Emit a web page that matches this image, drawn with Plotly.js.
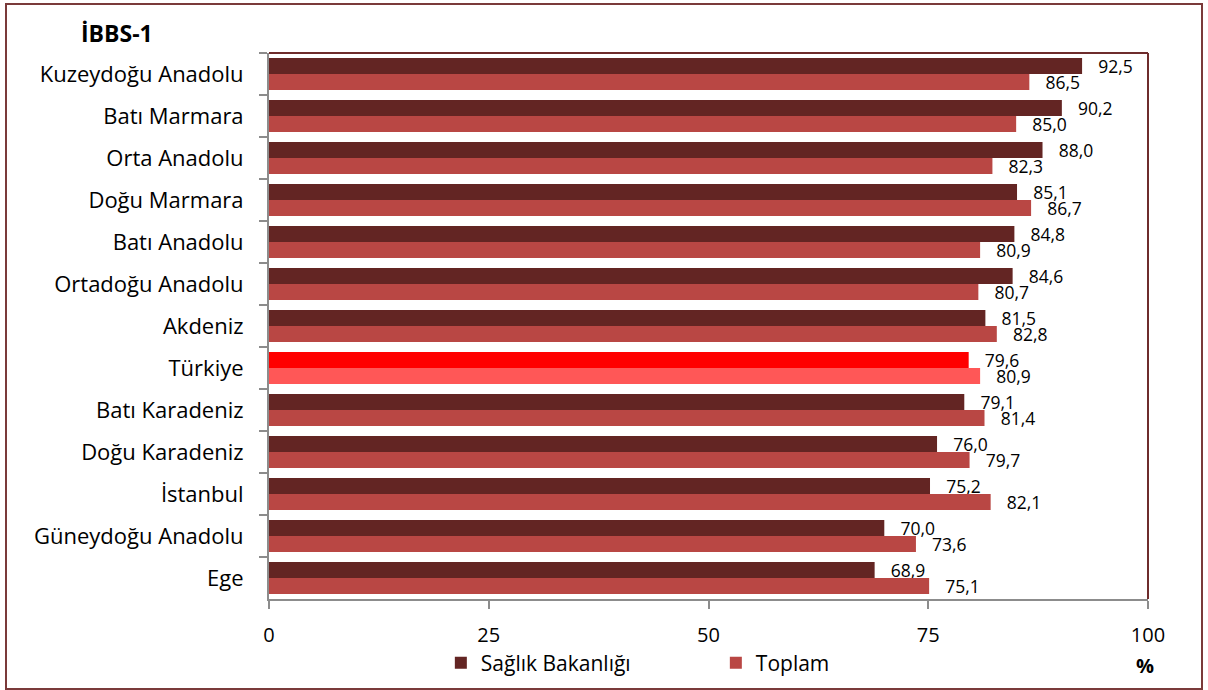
<!DOCTYPE html>
<html>
<head>
<meta charset="utf-8">
<script src="https://cdn.plot.ly/plotly-3.0.1.min.js"></script>
<style>
  html, body { margin: 0; padding: 0; background: #fff; }
  #wrap { position: relative; width: 1208px; height: 690px; }
  #chart { width: 1208px; height: 690px; }
  #frame { position: absolute; left: 5px; top: 3px; width: 1194px; height: 683px;
           border: 2px solid #7a3a3a; pointer-events: none; }
</style>
</head>
<body>
<div id="wrap"><div id="chart"></div><div id="frame"></div></div>
<script>
const categories = ["Kuzeydoğu Anadolu", "Batı Marmara", "Orta Anadolu", "Doğu Marmara", "Batı Anadolu",
  "Ortadoğu Anadolu", "Akdeniz", "Türkiye", "Batı Karadeniz", "Doğu Karadeniz", "İstanbul",
  "Güneydoğu Anadolu", "Ege"];
const saglikValues = [92.5, 90.2, 88.0, 85.1, 84.8, 84.6, 81.5, 79.6, 79.1, 76.0, 75.2, 70.0, 68.9];
const toplamValues = [86.5, 85.0, 82.3, 86.7, 80.9, 80.7, 82.8, 80.9, 81.4, 79.7, 82.1, 73.6, 75.1];
const xTicks = [0, 25, 50, 75, 100];

const FONT = "'Open Sans', sans-serif";
const darkCol = "#632523", lightCol = "#B94744";
const hiDark = "#FF0000", hiLight = "#FF5757";
const saglikColors = categories.map(c => c === "Türkiye" ? hiDark : darkCol);
const toplamColors = categories.map(c => c === "Türkiye" ? hiLight : lightCol);

const common = {
  type: "bar", orientation: "h", y: categories,
  textposition: "outside", cliponaxis: false, constraintext: "none",
  texttemplate: "\u2002\u2005%{x:.1f}",
  textfont: { family: FONT, size: 17.5, color: "#000" },
  hoverinfo: "skip"
};

const data = [
  Object.assign({}, common, { name: "Sağlık Bakanlığı", x: saglikValues,
    marker: { color: saglikColors, line: { width: 0 } } }),
  Object.assign({}, common, { name: "Toplam", x: toplamValues,
    marker: { color: toplamColors, line: { width: 0 } } })
];

const layout = {
  width: 1208, height: 690,
  margin: { l: 269, r: 60, t: 53, b: 91, autoexpand: false },
  paper_bgcolor: "#fff", plot_bgcolor: "#fff",
  separators: ",.",
  font: { family: FONT, size: 20, color: "#000" },
  barmode: "group", bargap: 0.24, bargroupgap: 0,
  showlegend: true,
  legend: { orientation: "h", x: 0.1955, xanchor: "left",
    yref: "container", y: 0.039, yanchor: "middle",
    font: { family: FONT, size: 21, color: "#000" }, traceorder: "normal",
    entrywidth: 230, entrywidthmode: "pixels", itemwidth: 30 },
  xaxis: {
    range: [0, 100], tickvals: xTicks, ticktext: xTicks.map(String), automargin: false,
    showgrid: false, zeroline: false, showline: true, linecolor: "#8c8c8c", linewidth: 2,
    ticks: "outside", ticklen: 8, tickwidth: 2, tickcolor: "#8c8c8c",
    ticklabelstandoff: 9,
    tickfont: { family: FONT, size: 20, color: "#000" }, fixedrange: true
  },
  yaxis: {
    type: "category", autorange: "reversed", automargin: false,
    showgrid: false, zeroline: false, showline: true, linecolor: "#8c8c8c", linewidth: 2,
    ticks: "outside", tickson: "boundaries", ticklen: 8, tickwidth: 2, tickcolor: "#8c8c8c",
    ticklabelstandoff: 19,
    tickfont: { family: FONT, size: 22, color: "#000" }, fixedrange: true
  },
  shapes: [
    { type: "line", xref: "paper", yref: "paper", x0: 0, x1: 1, y0: 1, y1: 1,
      line: { color: "#6e2c2c", width: 2 } },
    { type: "line", xref: "paper", yref: "paper", x0: 1, x1: 1, y0: 0, y1: 1,
      line: { color: "#6e2c2c", width: 2 } }
  ],
  annotations: [
    { text: "<b>İBBS-1</b>", xref: "paper", yref: "paper", x: -0.216, y: 1.036,
      xanchor: "left", yanchor: "middle", showarrow: false,
      font: { family: FONT, size: 23, color: "#000" } },
    { text: "<b>%</b>", xref: "paper", yref: "paper", x: 0.997, y: -0.122,
      xanchor: "center", yanchor: "middle", showarrow: false,
      font: { family: FONT, size: 20, color: "#000" } }
  ]
};

Plotly.newPlot("chart", data, layout, { displayModeBar: false, staticPlot: true });
</script>
</body>
</html>
